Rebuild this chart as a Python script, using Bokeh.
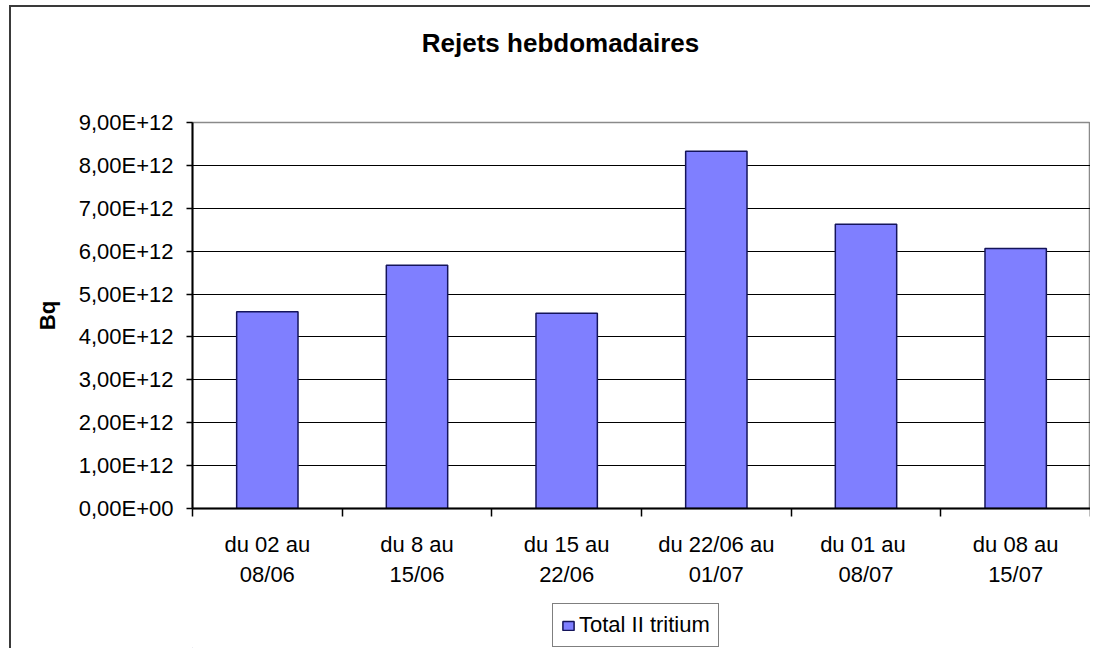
from bokeh.plotting import figure
from bokeh.layouts import column
from bokeh.models import FixedTicker, Legend, LegendItem, Label
from bokeh.embed import file_html
from bokeh.resources import INLINE

# ---- data ----
title_text = "Rejets hebdomadaires"
y_axis_label = "Bq"
series_name = "Total II tritium"
categories = [
    "du 02 au\n08/06",
    "du 8 au\n15/06",
    "du 15 au\n22/06",
    "du 22/06 au\n01/07",
    "du 01  au\n08/07",
    "du 08 au\n15/07",
]
values = [4.59e12, 5.67e12, 4.55e12, 8.33e12, 6.63e12, 6.06e12]
y_ticks = [0, 1e12, 2e12, 3e12, 4e12, 5e12, 6e12, 7e12, 8e12, 9e12]
y_tick_labels = ["0,00E+00", "1,00E+12", "2,00E+12", "3,00E+12", "4,00E+12",
                 "5,00E+12", "6,00E+12", "7,00E+12", "8,00E+12", "9,00E+12"]

FONT = "Liberation Sans"
BAR_FILL = "#7f7fff"
BAR_LINE = "#14145a"
n = len(categories)
x_centers = [i + 0.5 for i in range(n)]
x_bounds = [float(i) for i in range(n + 1)]

W, H0, H1, H2 = 1090, 70, 526, 52


def strip(height):
    f = figure(width=W, height=height, output_backend="svg", toolbar_location=None,
               x_range=(0, 1), y_range=(0, 1), min_border=0)
    f.axis.visible = False
    f.grid.visible = False
    f.outline_line_color = None
    f.border_fill_color = None
    f.background_fill_color = None
    return f


# title strip
p0 = strip(H0)
p0.add_layout(Label(x=368, y=28, x_units="screen", y_units="screen",
                    text=title_text, text_align="center", text_baseline="middle",
                    text_font=FONT, text_font_size="26px",
                    text_font_style="bold", text_color="black"))

# main chart
p = figure(width=W, height=H1, output_backend="svg", toolbar_location=None,
           x_range=(0, n), y_range=(y_ticks[0], y_ticks[-1]),
           min_border_left=192, min_border_right=0, min_border_top=52,
           min_border_bottom=88)

p.border_fill_color = None
p.background_fill_color = "white"
p.outline_line_color = "#8a8a8a"
p.outline_line_width = 1.5

r = p.vbar(x=x_centers, top=values, width=0.41, bottom=0,
           fill_color=BAR_FILL, line_color=BAR_LINE, line_width=1.5)

# grid
p.xgrid.visible = False
p.ygrid.ticker = FixedTicker(ticks=y_ticks[1:-1])
p.ygrid.grid_line_color = "black"
p.ygrid.grid_line_width = 1.2

# x axis
xa = p.xaxis[0]
xa.ticker = FixedTicker(ticks=x_centers, minor_ticks=x_bounds)
xa.major_label_overrides = {x: c for x, c in zip(x_centers, categories)}
xa.major_tick_line_color = None
xa.major_tick_out = 8
xa.major_tick_in = 0
xa.minor_tick_line_color = "black"
xa.minor_tick_line_width = 1.5
xa.minor_tick_out = 8
xa.minor_tick_in = 0
xa.axis_line_color = "black"
xa.axis_line_width = 2
xa.major_label_text_font = FONT
xa.major_label_text_font_size = "22px"
xa.major_label_text_color = "black"
xa.major_label_text_line_height = 1.22
xa.major_label_standoff = 15

# y axis
ya = p.yaxis[0]
ya.ticker = FixedTicker(ticks=y_ticks)
ya.major_label_overrides = {t: l for t, l in zip(y_ticks, y_tick_labels)}
ya.minor_tick_line_color = None
ya.major_tick_line_color = "black"
ya.major_tick_line_width = 1.5
ya.major_tick_out = 6
ya.major_tick_in = 0
ya.axis_line_color = "black"
ya.axis_line_width = 2
ya.major_label_text_font = FONT
ya.major_label_text_font_size = "22px"
ya.major_label_text_color = "black"
ya.major_label_standoff = 13
ya.axis_label = y_axis_label
ya.axis_label_text_font = FONT
ya.axis_label_text_font_size = "22px"
ya.axis_label_text_font_style = "bold"
ya.axis_label_text_color = "black"
ya.axis_label_standoff = 16

# legend strip below the chart
p2 = strip(H2)
r2 = p2.vbar(x=[-5], top=[-5], width=0.41, bottom=-6,
             fill_color=BAR_FILL, line_color=BAR_LINE, line_width=1.5)
legend = Legend(items=[LegendItem(label=series_name, renderers=[r2])],
                location=(360, 1), orientation="horizontal",
                border_line_color="black", border_line_width=1.5,
                background_fill_color="white", background_fill_alpha=1,
                padding=8, margin=0, glyph_width=14, glyph_height=11,
                label_standoff=4, label_text_font=FONT,
                label_text_font_size="22px", label_text_color="black")
p2.add_layout(legend, "center")

layout = column(p0, p, p2, spacing=0)
layout.styles = {
    "background": ("linear-gradient(#3a3a3a,#3a3a3a) 9px 5px / 2px 100% no-repeat, "
                   "linear-gradient(#3a3a3a,#3a3a3a) 9px 5px / 100% 2px no-repeat, white"),
}

open("out.html", "w").write(file_html(layout, INLINE))
